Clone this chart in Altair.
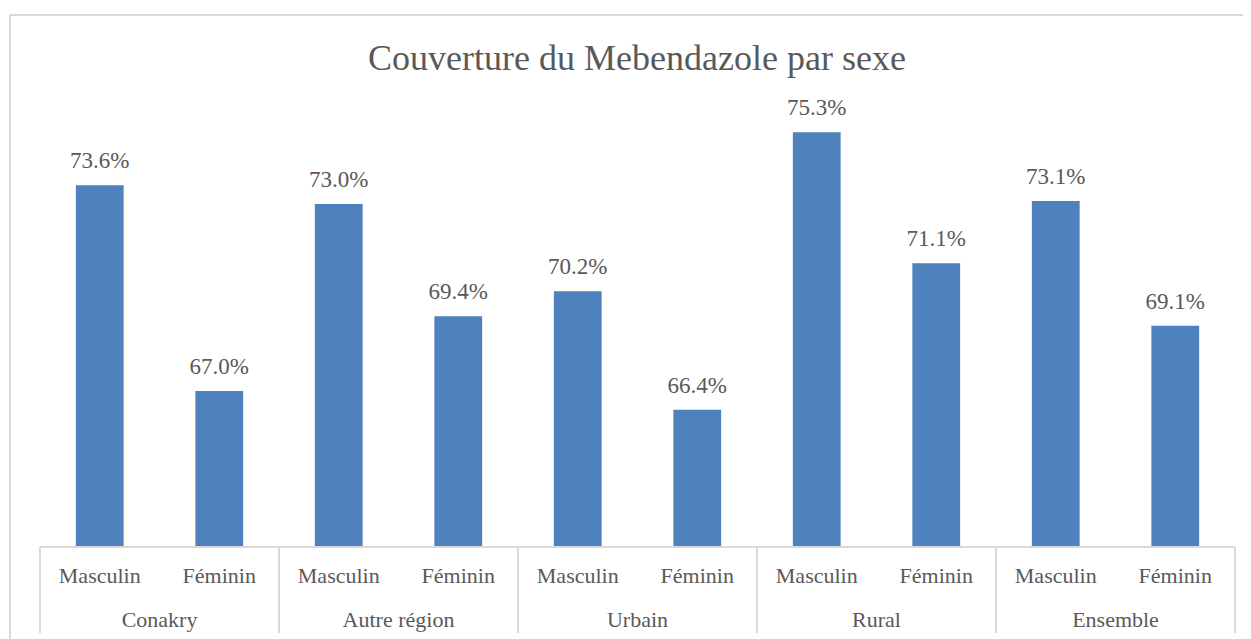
import altair as alt
import pandas as pd

# ---- data ----
groups = ["Conakry", "Autre région", "Urbain", "Rural", "Ensemble"]
sexes = ["Masculin", "Féminin"]
values = [73.6, 67.0, 73.0, 69.4, 70.2, 66.4, 75.3, 71.1, 73.1, 69.1]
title_text = "Couverture du Mebendazole par sexe"

rows = []
for gi, g in enumerate(groups):
    for si, s in enumerate(sexes):
        idx = gi * len(sexes) + si
        rows.append({"groupe": g, "sexe": s, "idx": idx, "valeur": values[idx]})
df = pd.DataFrame(rows)
grp_df = pd.DataFrame({"groupe": groups, "gidx": list(range(len(groups)))})
bnd_df = pd.DataFrame({"b": [i * len(sexes) for i in range(len(groups) + 1)]})

FONT = "Liberation Serif, Times New Roman, serif"
TXT = "#595959"
GRID = "#D9D9D9"
BAR = "#4F81BD"
W, H = 1233, 624
n = len(values)

xs = alt.Scale(domain=[0, n], range=[30, 1225])
ys = alt.Scale(domain=[62, 76], range=[532, 95.5])

base = alt.Chart(df)

bars = base.transform_calculate(
    x0="datum.idx + 0.3", x1="datum.idx + 0.7"
).mark_bar(color=BAR).encode(
    x=alt.X("x0:Q", scale=xs, axis=None),
    x2="x1:Q",
    y=alt.Y("valeur:Q", scale=ys, axis=None),
    y2=alt.datum(62),
)

labels = base.transform_calculate(
    xc="datum.idx + 0.5", lab="format(datum.valeur, '.1f') + '%'"
).mark_text(font=FONT, fontSize=23, color=TXT, baseline="alphabetic", dy=-17).encode(
    x=alt.X("xc:Q", scale=xs, axis=None),
    y=alt.Y("valeur:Q", scale=ys, axis=None),
    text="lab:N",
)

sub_labels = base.transform_calculate(
    xc="datum.idx + 0.5"
).mark_text(font=FONT, fontSize=22, color=TXT, baseline="alphabetic").encode(
    x=alt.X("xc:Q", scale=xs, axis=None),
    y=alt.value(568),
    text="sexe:N",
)

grp_labels = alt.Chart(grp_df).transform_calculate(
    xc="datum.gidx * 2 + 1"
).mark_text(font=FONT, fontSize=22, color=TXT, baseline="alphabetic").encode(
    x=alt.X("xc:Q", scale=xs, axis=None),
    y=alt.value(611.5),
    text="groupe:N",
)

axis_line = alt.Chart(df).mark_rule(color=GRID, strokeWidth=2).encode(
    x=alt.value(30), x2=alt.value(1225), y=alt.value(532)
)

seps = alt.Chart(bnd_df).mark_rule(color=GRID, strokeWidth=2).encode(
    x=alt.X("b:Q", scale=xs, axis=None),
    y=alt.value(532),
    y2=alt.value(618),
)

border_left = alt.Chart(df).mark_rule(color=GRID, strokeWidth=2).encode(
    x=alt.value(0), y=alt.value(0), y2=alt.value(H)
)
border_top = alt.Chart(df).mark_rule(color=GRID, strokeWidth=2).encode(
    x=alt.value(0), x2=alt.value(W), y=alt.value(0)
)

title = alt.Chart(pd.DataFrame({"t": [title_text]})).mark_text(
    font=FONT, fontSize=36, color=TXT, baseline="alphabetic"
).encode(x=alt.value(627), y=alt.value(54.5), text="t:N")

chart = alt.layer(
    border_left, border_top, bars, labels, axis_line, seps, sub_labels, grp_labels, title
).properties(
    width=W, height=H,
    autosize="none",
    padding={"left": 2, "top": 7, "right": 0, "bottom": 0},
).configure_view(stroke=None)

chart.save("out.html", embed_options={"renderer": "svg", "actions": False})
